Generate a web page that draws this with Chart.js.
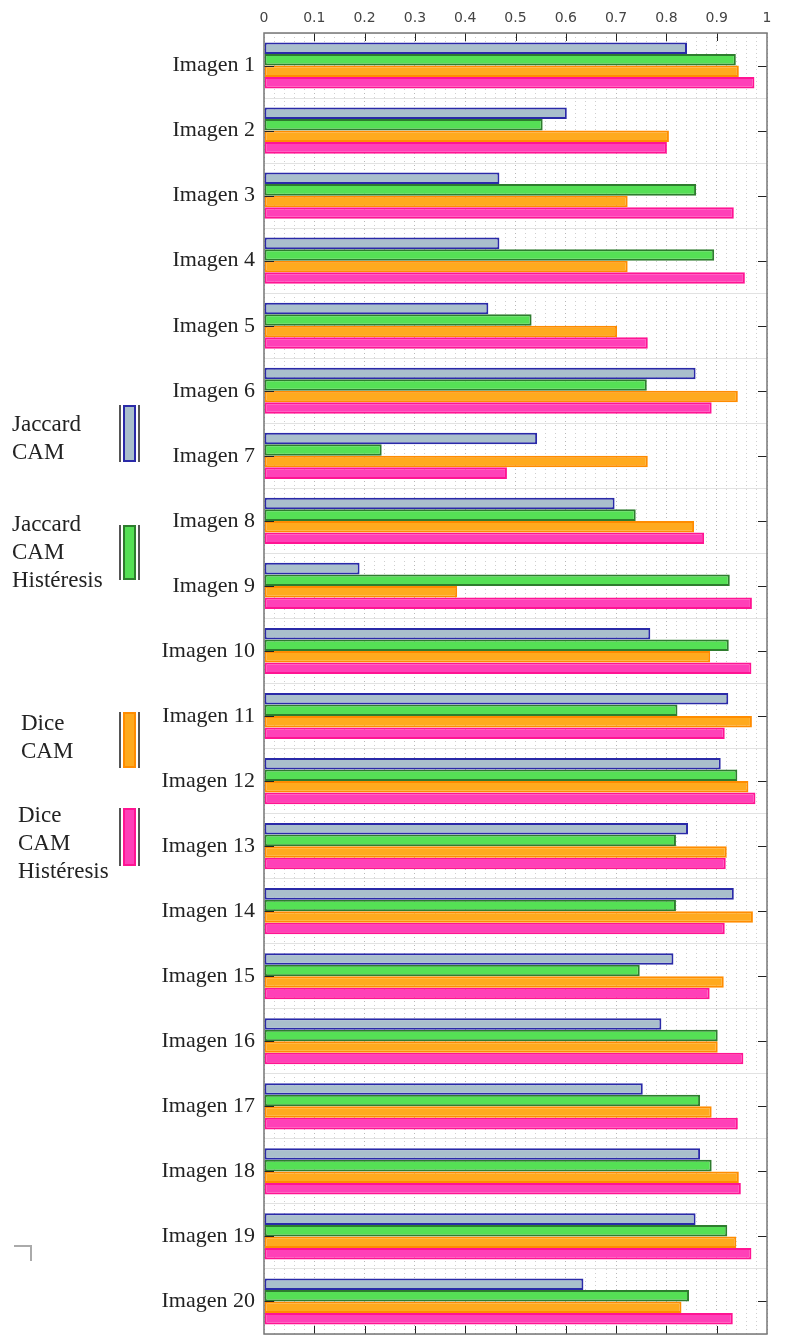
<!DOCTYPE html>
<html>
<head>
<meta charset="utf-8">
<script src="https://cdn.jsdelivr.net/npm/chart.js@4/dist/chart.umd.min.js"></script>
<style>
  body { margin: 0; background: #fff; }
  #wrap { position: relative; width: 802px; height: 1337px; }
  canvas { display: block; }
  .leg { position: absolute; font-family: 'Liberation Serif', serif; font-size: 23px; line-height: 28px; color: #222; }
  .sw { position: absolute; width: 17px; border-left: 2px solid #555; border-right: 2px solid #555; }
  .sw div { position: absolute; left: 2px; right: 2px; top: 0; bottom: 0; border: 2px solid; }
  .corner { position: absolute; left: 14px; top: 1245px; width: 16px; height: 14px; border-top: 2px solid #aaa; border-right: 2px solid #aaa; }
</style>
</head>
<body>
<div id="wrap">
  <canvas id="axes_bar_chart" width="802" height="1337"></canvas>
  <div class="leg" style="left:12px;top:410px">Jaccard<br>CAM</div>
  <div class="sw" style="left:119px;top:405px;height:57px"><div style="background:#a9bfcc;border-color:#2a2aa8"></div></div>
  <div class="leg" style="left:12px;top:510px">Jaccard<br>CAM<br>Histéresis</div>
  <div class="sw" style="left:119px;top:525px;height:55px"><div style="background:#55e055;border-color:#2e7d2e"></div></div>
  <div class="leg" style="left:21px;top:709px">Dice<br>CAM</div>
  <div class="sw" style="left:119px;top:712px;height:56px"><div style="background:#ffaa1e;border-color:#ff8c00"></div></div>
  <div class="leg" style="left:18px;top:801px">Dice<br>CAM<br>Histéresis</div>
  <div class="sw" style="left:119px;top:808px;height:58px"><div style="background:#ff40b8;border-color:#ff1493"></div></div>
  <div class="corner"></div>
</div>
<script>
// DATA

const categories = [
  'Imagen 1', 'Imagen 2', 'Imagen 3', 'Imagen 4', 'Imagen 5',
  'Imagen 6', 'Imagen 7', 'Imagen 8', 'Imagen 9', 'Imagen 10',
  'Imagen 11', 'Imagen 12', 'Imagen 13', 'Imagen 14', 'Imagen 15',
  'Imagen 16', 'Imagen 17', 'Imagen 18', 'Imagen 19', 'Imagen 20'
];

const jaccard_cam = [0.841, 0.602, 0.468, 0.468, 0.446, 0.858, 0.543, 0.697, 0.190, 0.768,
                     0.923, 0.908, 0.843, 0.934, 0.814, 0.790, 0.753, 0.867, 0.858, 0.635];
const jaccard_cam_hist = [0.938, 0.554, 0.859, 0.895, 0.532, 0.761, 0.234, 0.739, 0.926, 0.924,
                          0.822, 0.941, 0.819, 0.819, 0.747, 0.902, 0.867, 0.890, 0.921, 0.845];
const dice_cam = [0.944, 0.805, 0.723, 0.723, 0.702, 0.942, 0.763, 0.855, 0.384, 0.887,
                  0.970, 0.963, 0.920, 0.972, 0.914, 0.902, 0.890, 0.944, 0.939, 0.830];
const dice_cam_hist = [0.975, 0.801, 0.934, 0.956, 0.763, 0.890, 0.483, 0.875, 0.970, 0.969,
                       0.916, 0.977, 0.918, 0.916, 0.886, 0.953, 0.942, 0.948, 0.969, 0.932];

const x_min = 0, x_max = 1, x_step = 0.02;

function isMajor(v) {
  return Math.abs(v * 10 - Math.round(v * 10)) < 1e-6;
}

// FRAME + INNER TICK MARKS
const frame = {
  id: 'frame',
  afterDatasetsDraw(chart) {
    const { ctx, chartArea: a, scales } = chart;
    ctx.save();
    ctx.strokeStyle = '#222';
    ctx.lineWidth = 1;
    scales.x.ticks.forEach((t, i) => {
      if (!isMajor(t.value) || t.value <= 0 || t.value >= 1) return;
      const x = Math.round(scales.x.getPixelForTick(i)) + 0.5;
      ctx.beginPath();
      ctx.moveTo(x, a.top); ctx.lineTo(x, a.top + 8);
      ctx.moveTo(x, a.bottom); ctx.lineTo(x, a.bottom - 8);
      ctx.stroke();
    });
    scales.y.ticks.forEach((t, i) => {
      const y = Math.round(scales.y.getPixelForTick(i)) + 0.5;
      ctx.beginPath();
      ctx.moveTo(a.right, y); ctx.lineTo(a.right - 9, y);
      ctx.moveTo(a.left, y); ctx.lineTo(a.left + 10, y);
      ctx.stroke();
    });
    ctx.strokeStyle = '#777';
    ctx.lineWidth = 1.5;
    ctx.strokeRect(a.left, a.top, a.width, a.height);
    ctx.restore();
  }
};

const chart = document.getElementById('axes_bar_chart').getContext('2d');

new Chart(chart, {
  type: 'bar',
  data: {
    labels: categories,
    datasets: [
      {
        label: 'Jaccard CAM',
        data: jaccard_cam,
        backgroundColor: '#a9bfcc',
        borderColor: '#2a2aa8',
        borderWidth: 2,
        borderSkipped: false
      },
      {
        label: 'Jaccard CAM Histéresis',
        data: jaccard_cam_hist,
        backgroundColor: '#55e055',
        borderColor: '#2e7d2e',
        borderWidth: 2,
        borderSkipped: false
      },
      {
        label: 'Dice CAM',
        data: dice_cam,
        backgroundColor: '#ffaa1e',
        borderColor: '#ff8c00',
        borderWidth: 2,
        borderSkipped: false
      },
      {
        label: 'Dice CAM Histéresis',
        data: dice_cam_hist,
        backgroundColor: '#ff40b8',
        borderColor: '#ff1493',
        borderWidth: 2,
        borderSkipped: false
      }
    ]
  },
  options: {
    indexAxis: 'y',
    responsive: false,
    animation: false,
    categoryPercentage: 0.71,
    barPercentage: 1,
    layout: { padding: { left: 0, right: 35, top: 0, bottom: 3 } },
    plugins: {
      legend: { display: false },
      tooltip: { enabled: false }
    },
    scales: {
      x: {
        position: 'top',
        min: x_min,
        max: x_max,
        afterFit(scale) { scale.height = 33; },
        ticks: {
          stepSize: x_step,
          autoSkip: false,
          maxRotation: 0,
          padding: 6,
          color: '#444',
          font: { family: 'DejaVu Sans', size: 14 },
          callback: (v) => isMajor(v) ? String(Math.round(v * 10) / 10) : ''
        },
        grid: {
          drawTicks: false,
          color: (c) => isMajor(c.tick.value) ? '#b8b8b8' : '#cfcfcf',
          lineWidth: 1
        },
        border: { display: false, dash: [1, 3] }
      },
      y: {
        afterFit(scale) {
          scale.width = 264;
          scale.paddingTop = 0;
          scale.paddingBottom = 0;
        },
        ticks: {
          padding: 9,
          color: '#222',
          font: { family: 'Liberation Serif', size: 22 }
        },
        grid: {
          drawTicks: false,
          color: '#e2e2e2',
          lineWidth: 1
        },
        border: { display: false }
      }
    }
  },
  plugins: [frame]
});
</script>
</body>
</html>
